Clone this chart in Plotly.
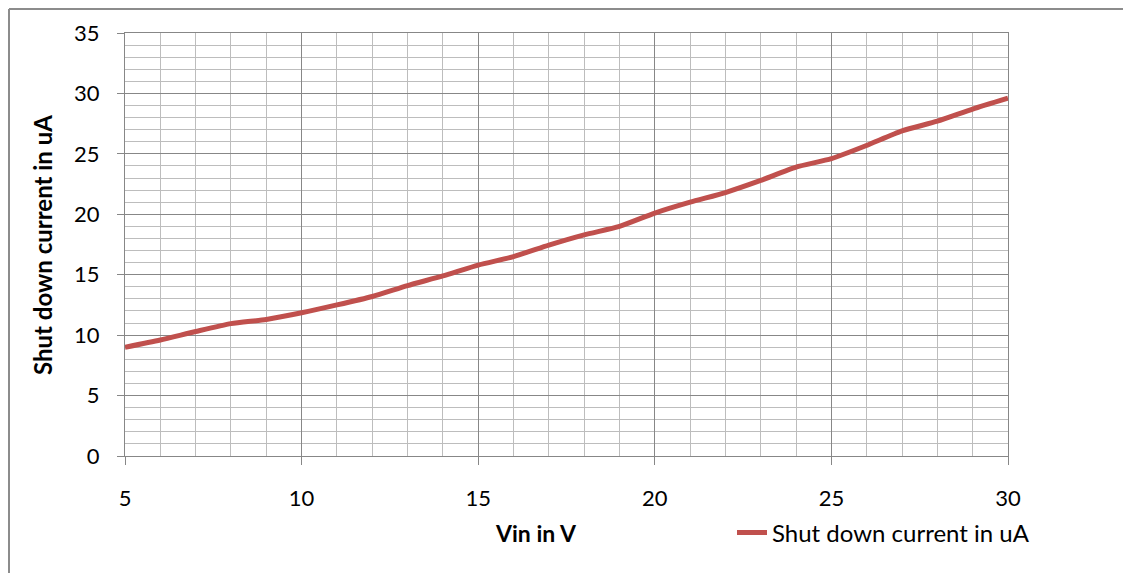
import plotly.graph_objects as go

vin = [5, 6, 7, 8, 9, 10, 11, 12, 13, 14, 15, 16, 17, 18, 19, 20,
       21, 22, 23, 24, 25, 26, 27, 28, 29, 30]
current = [9.0, 9.6, 10.3, 10.95, 11.3, 11.85, 12.5, 13.2, 14.1, 14.9, 15.8, 16.5,
           17.45, 18.3, 19.0, 20.1, 21.0, 21.8, 22.8, 23.9, 24.6, 25.7, 26.9, 27.7,
           28.7, 29.6]
series_name = "Shut down current in uA"
x_title = "Vin in V"
y_title = "Shut down current in uA"

OFF = 8  # page body margin
W, H = 1131 - OFF, 573 - OFF
L, R, T, B = 125 - OFF, 123, 33 - OFF, 117
pw, ph = W - L - R, H - T - B


def px(xs):  # screen x -> paper
    return (xs - 125) / pw


def py(ys):  # screen y -> paper
    return (456 - ys) / ph


font = "Lato, Liberation Sans, sans-serif"
major = "#878787"
minor = "#BDBDBD"
border = "#8C8C8C"

fig = go.Figure()
fig.add_trace(go.Scatter(
    x=vin, y=current, mode="lines", name=series_name,
    line=dict(color="#C0504D", width=5, shape="spline", smoothing=0.6),
))

fig.update_layout(
    width=W, height=H,
    margin=dict(l=L, r=R, t=T, b=B),
    paper_bgcolor="white", plot_bgcolor="white",
    font=dict(family=font, size=22, color="#000000"),
    showlegend=True,
    legend=dict(
        orientation="h", x=px(732), y=py(533),
        xanchor="left", yanchor="middle",
        font=dict(family=font, size=24), bgcolor="rgba(0,0,0,0)",
    ),
    xaxis=dict(
        range=[5, 30], dtick=5, tick0=5,
        showgrid=True, gridcolor=major, gridwidth=1,
        minor=dict(dtick=1, showgrid=True, gridcolor=minor, gridwidth=1),
        showline=True, linecolor=major, linewidth=1, mirror=True,
        ticks="outside", ticklen=8, tickcolor=major,
        ticklabelstandoff=15, zeroline=False,
        tickfont=dict(family=font, size=22),
    ),
    yaxis=dict(
        range=[0, 35], dtick=5,
        showgrid=True, gridcolor=major, gridwidth=1,
        minor=dict(dtick=1, showgrid=True, gridcolor=minor, gridwidth=1),
        showline=True, linecolor=major, linewidth=1, mirror=True,
        ticks="outside", ticklen=7, tickcolor=major,
        ticklabelstandoff=13, zeroline=False,
        tickfont=dict(family=font, size=22),
    ),
    annotations=[
        dict(text="<b>" + x_title + "</b>", xref="paper", yref="paper",
             x=px(536), y=py(533), showarrow=False,
             xanchor="center", yanchor="middle", font=dict(family=font, size=23)),
        dict(text="<b>" + y_title + "</b>", xref="paper", yref="paper",
             x=px(42), y=py(245), showarrow=False, textangle=-90,
             xanchor="center", yanchor="middle", font=dict(family=font, size=24)),
    ],
    shapes=[
        dict(type="line", xref="paper", yref="paper",
             x0=px(9), x1=px(1131), y0=py(9), y1=py(9),
             line=dict(color=border, width=2), layer="below"),
        dict(type="line", xref="paper", yref="paper",
             x0=px(9), x1=px(9), y0=py(9), y1=py(573),
             line=dict(color=border, width=2), layer="below"),
    ],
)

fig.write_html("out.html")
